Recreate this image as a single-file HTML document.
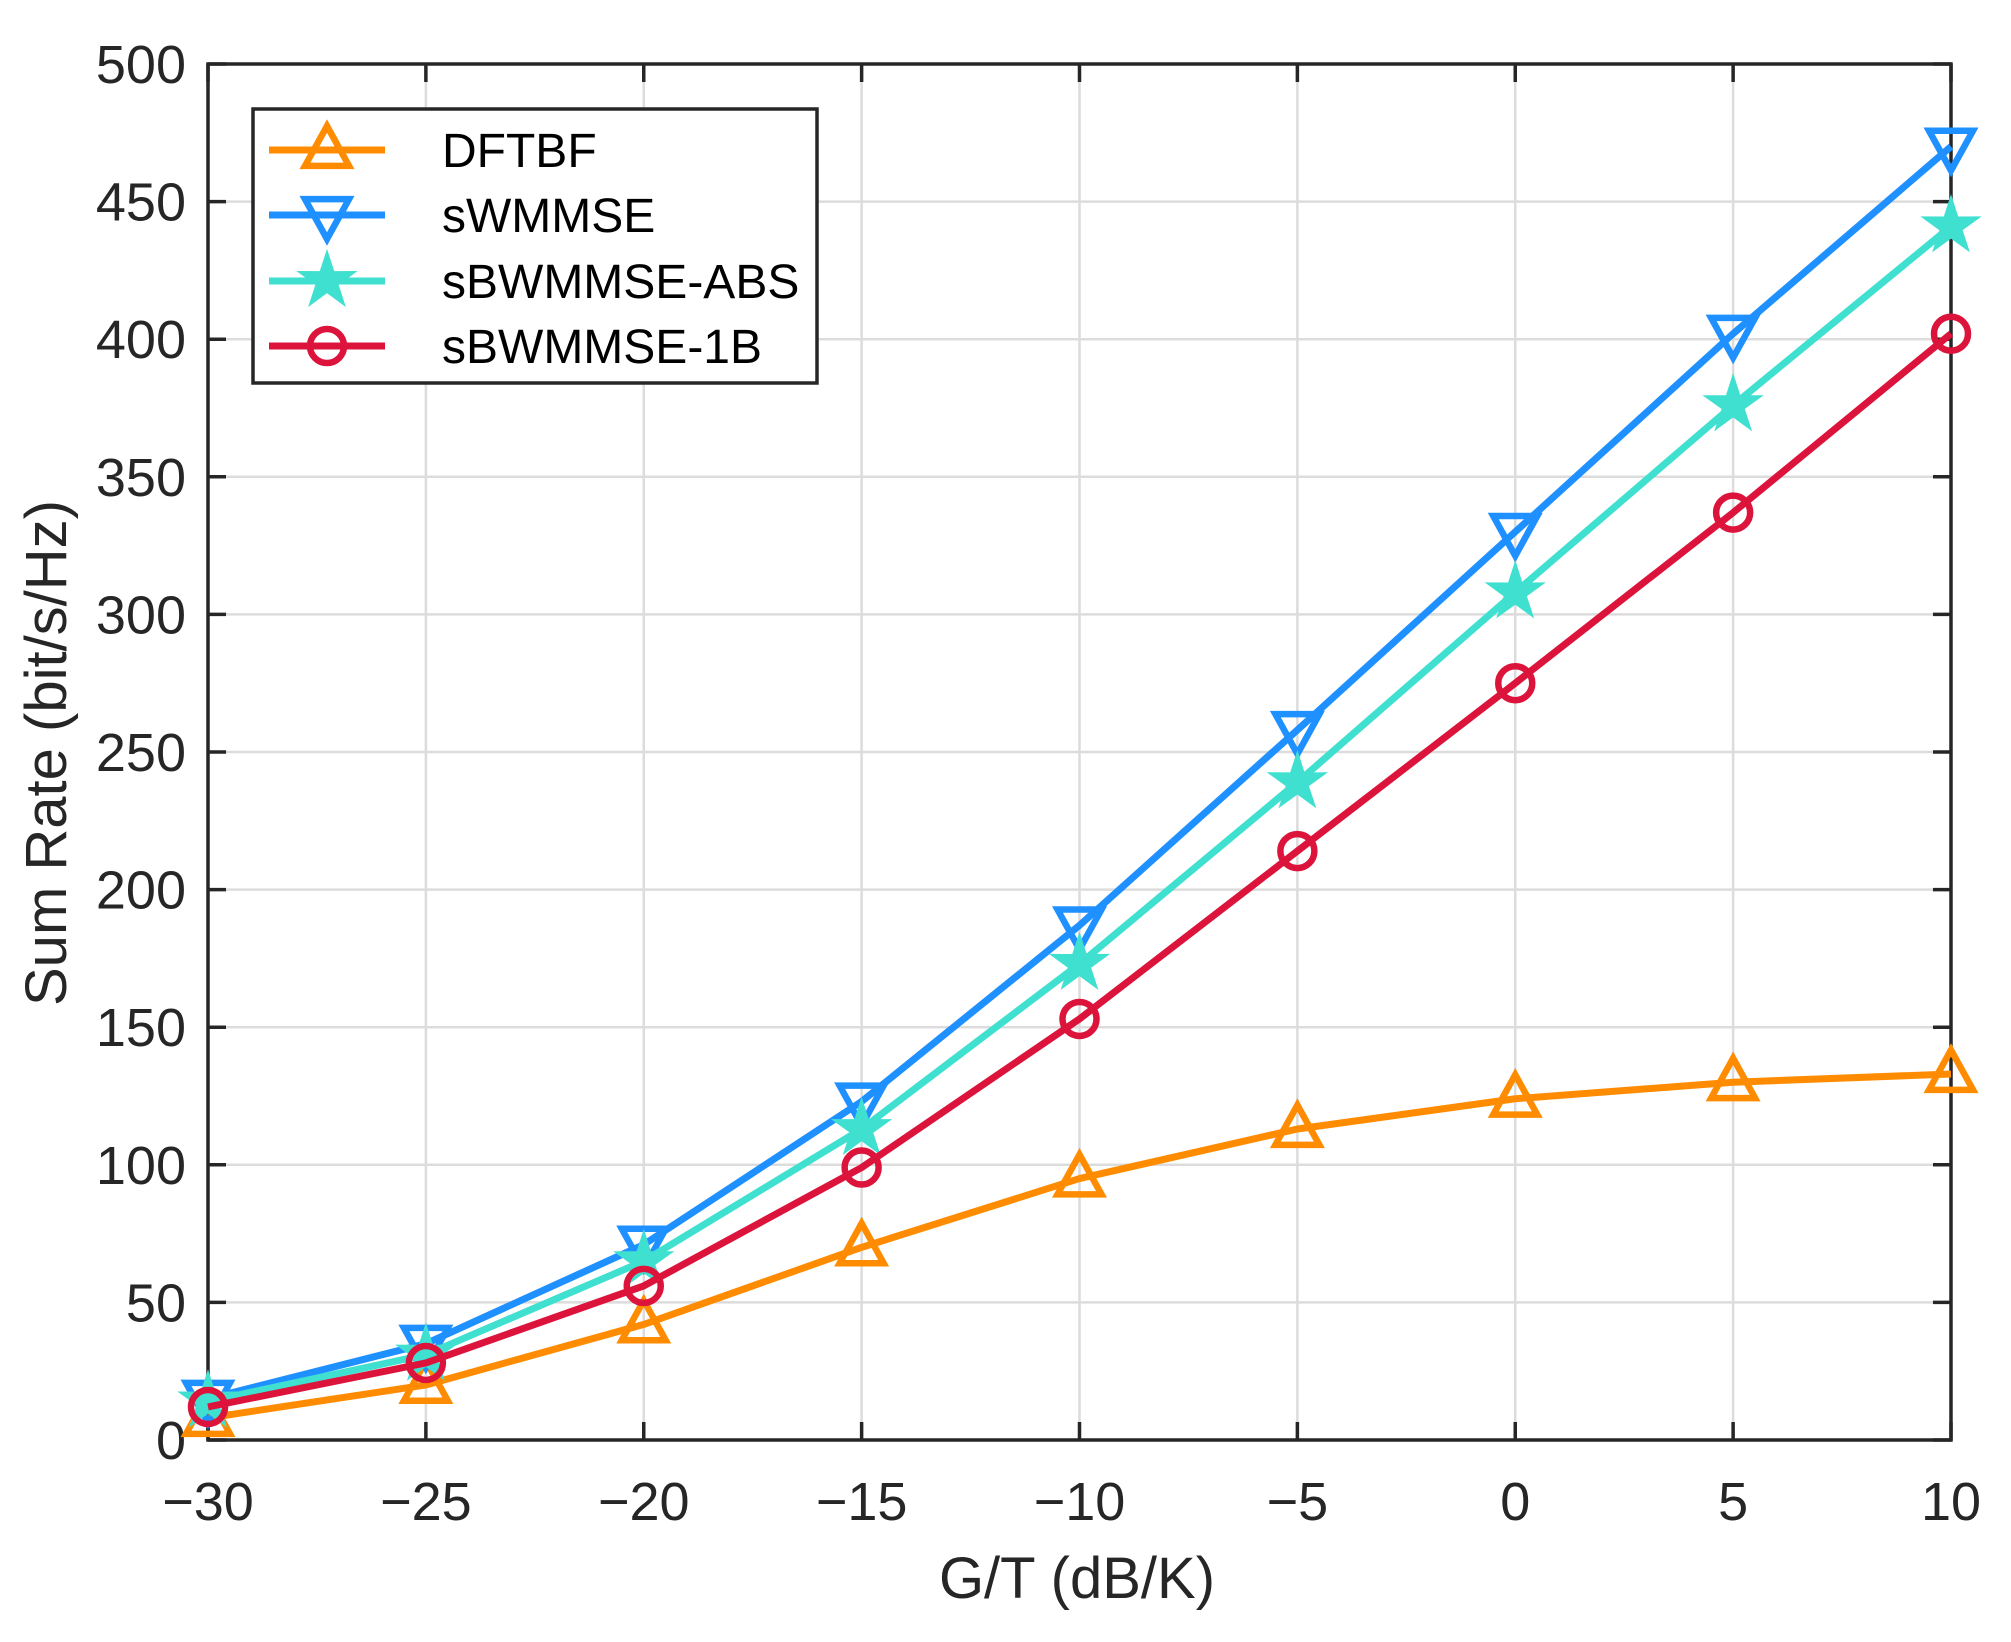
<!DOCTYPE html>
<html><head><meta charset="utf-8"><style>
html,body{margin:0;padding:0;background:#fff;}
svg{display:block;font-family:"Liberation Sans",Arial,sans-serif;}
</style></head><body>
<svg id="s" width="2011" height="1642" viewBox="0 0 2011 1642" xmlns="http://www.w3.org/2000/svg"></svg>
<script>
const L=208,R=1951,T=64,B=1440;
const X=v=>L+(v+30)/40*(R-L), Y=v=>B-v/500*(B-T);
let h='<rect width="2011" height="1642" fill="#fff"/>';
for(let x=-25;x<10;x+=5)h+=`<line x1="${X(x)}" y1="${T}" x2="${X(x)}" y2="${B}" stroke="#dcdcdc" stroke-width="2.5"/>`;
for(let y=50;y<500;y+=50)h+=`<line x1="${L}" y1="${Y(y)}" x2="${R}" y2="${Y(y)}" stroke="#dcdcdc" stroke-width="2.5"/>`;
for(let x=-30;x<=10;x+=5){h+=`<line x1="${X(x)}" y1="${B}" x2="${X(x)}" y2="${B-18}" stroke="#262626" stroke-width="3.5"/><line x1="${X(x)}" y1="${T}" x2="${X(x)}" y2="${T+18}" stroke="#262626" stroke-width="3.5"/>`;
h+=`<text x="${X(x)}" y="1520" font-size="54" text-anchor="middle" fill="#262626">${x<0?'\u2212'+(-x):x}</text>`;}
for(let y=0;y<=500;y+=50){h+=`<line x1="${L}" y1="${Y(y)}" x2="${L+18}" y2="${Y(y)}" stroke="#262626" stroke-width="3.5"/><line x1="${R}" y1="${Y(y)}" x2="${R-18}" y2="${Y(y)}" stroke="#262626" stroke-width="3.5"/>`;
h+=`<text x="186" y="${Y(y)+19}" font-size="54" text-anchor="end" fill="#262626">${y}</text>`;}
h+=`<rect x="${L}" y="${T}" width="${R-L}" height="${B-T}" fill="none" stroke="#262626" stroke-width="3.5"/>`;
h+=`<text x="1077" y="1598" font-size="58" text-anchor="middle" fill="#262626">G/T (dB/K)</text>`;
h+=`<text transform="translate(66,753) rotate(-90)" font-size="58" text-anchor="middle" fill="#262626">Sum Rate (bit/s/Hz)</text>`;
const xs=[-30,-25,-20,-15,-10,-5,0,5,10];
const S=[
 {c:'#FF8C00',m:'tu',n:'DFTBF',d:[8,20,42,70,95,113,124,130,133]},
 {c:'#1E90FF',m:'td',n:'sWMMSE',d:[15,35,71,123,187,258,330,402,470]},
 {c:'#40E0D0',m:'st',n:'sBWMMSE-ABS',d:[14,31,65,113,173,239,308,376,441]},
 {c:'#DC143C',m:'ci',n:'sBWMMSE-1B',d:[12,28,56,99,153,214,275,337,402]}];
function mk(m,x,y,c){const r=22;
 if(m=='tu')return `<polygon points="${x},${y-r-2} ${x-r},${y+r*0.72} ${x+r},${y+r*0.72}" fill="none" stroke="${c}" stroke-width="6.5"/>`;
 if(m=='td')return `<polygon points="${x},${y+r+2} ${x-r},${y-r*0.72} ${x+r},${y-r*0.72}" fill="none" stroke="${c}" stroke-width="6.5"/>`;
 if(m=='ci')return `<circle cx="${x}" cy="${y}" r="17" fill="none" stroke="${c}" stroke-width="6.5"/>`;
 let p=[];for(let i=0;i<10;i++){const a=-Math.PI/2+i*Math.PI/5,rr=i%2?11:29;p.push((x+rr*Math.cos(a)).toFixed(1)+','+(y+rr*Math.sin(a)).toFixed(1));}
 return `<polygon points="${p.join(' ')}" fill="${c}" stroke="${c}" stroke-width="2"/>`;}
S.forEach(s=>{h+=`<polyline points="${s.d.map((v,i)=>X(xs[i])+','+Y(v)).join(' ')}" fill="none" stroke="${s.c}" stroke-width="7" stroke-linejoin="round"/>`;
 s.d.forEach((v,i)=>h+=mk(s.m,X(xs[i]),Y(v),s.c));});
h+=`<rect x="253" y="109" width="564" height="274" fill="#fff" stroke="#262626" stroke-width="3.5"/>`;
[150,215,281,346].forEach((y,i)=>{const s=S[i];h+=`<line x1="269" y1="${y}" x2="385" y2="${y}" stroke="${s.c}" stroke-width="7"/>`+mk(s.m,327,y,s.c)+`<text x="442" y="${y+17}" font-size="48" fill="#000">${s.n}</text>`;});
document.getElementById('s').innerHTML=h;
</script>
</body></html>
